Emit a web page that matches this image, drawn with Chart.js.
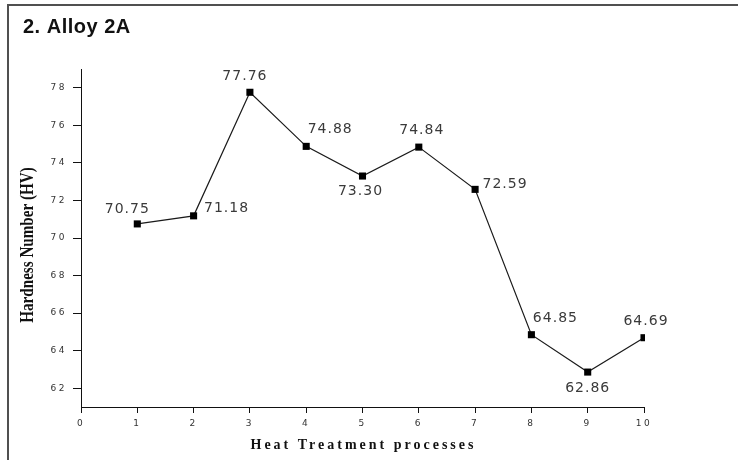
<!DOCTYPE html>
<html><head><meta charset="utf-8">
<script src="https://cdn.jsdelivr.net/npm/chart.js@4"></script>
<style>
html,body{margin:0;padding:0;background:#fff;width:738px;height:460px;overflow:hidden}
#wrap{position:relative;width:738px;height:460px}
#frame{position:absolute;left:7px;top:4px;width:800px;height:600px;border:2px solid #505050;box-sizing:border-box}
#c{position:absolute;left:0;top:0}
</style></head><body>
<div id="wrap"><div id="frame"></div><canvas id="c" width="738" height="460"></canvas></div>
<script>
const chartTitle = '2. Alloy 2A';
const xTitle = 'Heat Treatment processes';
const yTitle = 'Hardness Number (HV)';
const categories = [1, 2, 3, 4, 5, 6, 7, 8, 9, 10];
const hardness = [70.75, 71.18, 77.76, 74.88, 73.30, 74.84, 72.59, 64.85, 62.86, 64.69];
const valueLabels = ['70.75', '71.18', '77.76', '74.88', '73.30', '74.84', '72.59', '64.85', '62.86', '64.69'];
const xTicks = [0, 1, 2, 3, 4, 5, 6, 7, 8, 9, 10];
const yTicks = [62, 64, 66, 68, 70, 72, 74, 76, 78];

const decor = {
  id: 'decor',
  beforeDraw(chart) { chart.ctx.letterSpacing = '2.5px'; },
  beforeDatasetsDraw(chart) { chart.ctx.letterSpacing = '0px'; },
  afterDatasetsDraw(chart, args, opts) {
    const ctx = chart.ctx;
    const meta = chart.getDatasetMeta(0);
    ctx.save();
    ctx.font = '14px "DejaVu Sans"';
    ctx.fillStyle = '#3a3a3a';
    ctx.textAlign = 'center';
    ctx.textBaseline = 'middle';
    ctx.letterSpacing = '1px';
    meta.data.forEach((pt, i) => {
      const o = opts.offsets[i];
      ctx.fillText(valueLabels[i], pt.x + o[0], pt.y + o[1]);
    });
    ctx.restore();

    const ca = chart.chartArea;
    // main title
    ctx.save();
    ctx.font = 'bold 20px "Liberation Sans"';
    ctx.fillStyle = '#111';
    ctx.textAlign = 'left';
    ctx.textBaseline = 'alphabetic';
    ctx.letterSpacing = '0.5px';
    ctx.fillText(chartTitle, 23, 33);
    ctx.restore();
    // y title
    ctx.save();
    ctx.translate(28, 245);
    ctx.rotate(-Math.PI / 2);
    ctx.scale(0.84, 1);
    ctx.font = 'bold 18px "Liberation Serif"';
    ctx.fillStyle = '#111';
    ctx.textAlign = 'center';
    ctx.textBaseline = 'middle';
    ctx.letterSpacing = '0px';
    ctx.fillText(yTitle, 0, 0);
    ctx.restore();
    // x title
    ctx.save();
    ctx.font = 'bold 14px "Liberation Serif"';
    ctx.fillStyle = '#111';
    ctx.textAlign = 'center';
    ctx.textBaseline = 'alphabetic';
    ctx.letterSpacing = '3px';
    ctx.fillText(xTitle, (ca.left + ca.right) / 2 + 1, 449);
    ctx.restore();
  }
};

const tickFont = { family: 'DejaVu Sans', size: 9 };

new Chart(document.getElementById('c'), {
  type: 'line',
  data: {
    datasets: [{
      data: categories.map((c, i) => ({ x: c, y: hardness[i] })),
      borderColor: '#1a1a1a',
      borderWidth: 1.2,
      pointStyle: 'rect',
      pointRadius: 5,
      pointBackgroundColor: '#000',
      pointBorderColor: '#000',
      pointBorderWidth: 0,
      tension: 0,
      clip: { left: 10, top: 10, right: 1, bottom: 10 }
    }]
  },
  options: {
    responsive: false,
    animation: false,
    devicePixelRatio: 1,
    layout: { padding: { left: 0, top: 69, right: 94, bottom: 0 } },
    plugins: {
      legend: { display: false },
      tooltip: { enabled: false },
      title: { display: false },
      decor: {
        offsets: [[-10, -15], [33, -7], [-5, -16], [24, -17], [-2, 15], [3, -17], [30, -5], [24, -16], [0, 16], [2, -16]]
      }
    },
    scales: {
      x: {
        type: 'linear',
        min: 0, max: 10,
        afterBuildTicks: s => { s.ticks = xTicks.map(v => ({ value: v })); },
        afterFit: s => { s.height = 53; },
        ticks: { font: tickFont, color: '#333', padding: 5, maxRotation: 0, autoSkip: false },
        grid: { drawOnChartArea: false, drawTicks: true, tickLength: 6, color: '#111', tickColor: '#111' },
        border: { display: true, color: '#111', width: 1 }
      },
      y: {
        type: 'linear',
        min: 61, max: 79,
        afterBuildTicks: s => { s.ticks = yTicks.map(v => ({ value: v })); },
        afterFit: s => { s.width = 81; },
        ticks: { font: tickFont, color: '#333', padding: 6, autoSkip: false },
        grid: { drawOnChartArea: false, drawTicks: true, tickLength: 8, color: '#111', tickColor: '#111' },
        border: { display: true, color: '#111', width: 1 }
      }
    }
  },
  plugins: [decor]
});
</script>
</body></html>
